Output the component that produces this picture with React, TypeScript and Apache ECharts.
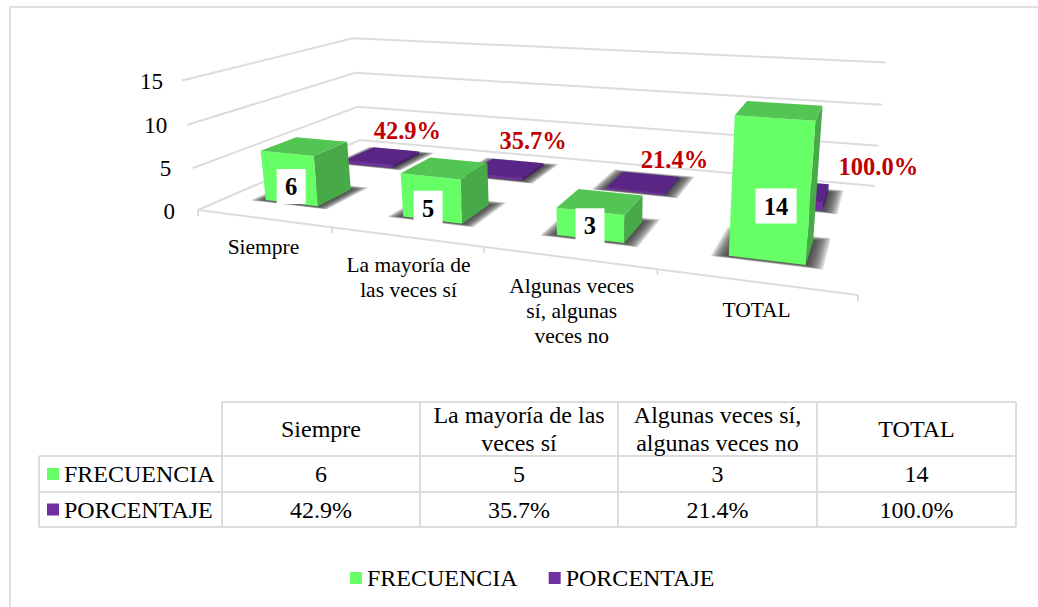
import React, { useEffect, useRef } from "react";
import * as echarts from "echarts";

const seriesNames = ["FRECUENCIA", "PORCENTAJE"];
const axisCategories = ["Siempre", "La mayoría de\nlas veces sí", "Algunas veces\nsí, algunas\nveces no", "TOTAL"];
const tableCategories = ["Siempre", "La mayoría de las\nveces sí", "Algunas veces sí,\nalgunas veces no", "TOTAL"];
const frecuencia = [6, 5, 3, 14];
const porcentaje = [0.429, 0.357, 0.214, 1.0];
const yTicks = [0, 5, 10, 15];

const FONT = '"Liberation Serif", "Times New Roman", serif';
const GREEN = "#66FF66";
const PURPLE = "#7030A0";
const LINE = "#DCDCDC";

// perspective frame of the 3D box (screen corners of its floor and its ceiling)
type P = [number, number];
const FLOOR: P[] = [[198, 210], [858, 295], [875, 186], [360, 140]];
const CEIL: P[] = [[182, 77], [870, 130], [887, 67], [353, 36]];

function makeCamera(q: P[], top: P[]) {
  const [[x0, y0], [x1, y1], [x2, y2], [x3, y3]] = q;
  const dx1 = x1 - x2, dx2 = x3 - x2, sx = x0 - x1 + x2 - x3;
  const dy1 = y1 - y2, dy2 = y3 - y2, sy = y0 - y1 + y2 - y3;
  const den = dx1 * dy2 - dx2 * dy1;
  const g = (sx * dy2 - dx2 * sy) / den;
  const h = (dx1 * sy - sx * dy1) / den;
  const a = x1 - x0 + g * x1, b = x3 - x0 + h * x3, c = x0;
  const d = y1 - y0 + g * y1, e = y3 - y0 + h * y3, f = y0;
  const corners: P[] = [[0, 0], [1, 0], [1, 1], [0, 1]];
  // least-squares fit of the vertical column (cx, cy, cw) of the projective camera
  const A = [[0, 0, 0], [0, 0, 0], [0, 0, 0]];
  const B = [0, 0, 0];
  const add = (row: number[], rhs: number) => {
    for (let r = 0; r < 3; r++) {
      for (let s = 0; s < 3; s++) A[r][s] += row[r] * row[s];
      B[r] += row[r] * rhs;
    }
  };
  corners.forEach(([u, v], i) => {
    const W = g * u + h * v + 1;
    const X = a * u + b * v + c;
    const Y = d * u + e * v + f;
    const [tx, ty] = top[i];
    add([1, 0, -tx], tx * W - X);
    add([0, 1, -ty], ty * W - Y);
  });
  for (let r = 0; r < 3; r++) {
    for (let k = r + 1; k < 3; k++) {
      const m = A[k][r] / A[r][r];
      for (let s = r; s < 3; s++) A[k][s] -= m * A[r][s];
      B[k] -= m * B[r];
    }
  }
  const col = [0, 0, 0];
  for (let r = 2; r >= 0; r--) {
    let t = B[r];
    for (let s = r + 1; s < 3; s++) t -= A[r][s] * col[s];
    col[r] = t / A[r][r];
  }
  return (u: number, v: number, t: number): P => {
    const w = g * u + h * v + 1 + col[2] * t;
    return [(a * u + b * v + c + col[0] * t) / w, (d * u + e * v + f + col[1] * t) / w];
  };
}
const project = makeCamera(FLOOR, CEIL);

const GEOM = {
  barStart: 0.2375,
  barEnd: 0.6425,
  bandShift: [0.043, 0.069, 0.082, 0.077],
  green: [0.165, 0.365],
  purple: [0.66, 0.87],
};
// hand-placed data labels in the source, relative to the top of each bar's front / top face
const greenLabelOffset: P[] = [[4, 33], [-2.5, 32], [-0.5, 14.5], [1, 88]];
const purpleLabelOffset: P[] = [[24.5, -25], [26, -28], [31, -23], [85, -24]];
const categoryLabelNudge = [0.5, 3, 4, 2.5];

function norm(api: any, params: any, x: number, y: number) {
  const c = api.coord([x, y]);
  const s = params.coordSys;
  return { u: (c[0] - s.x) / s.width, h: (s.y + s.height - c[1]) / s.height, px: c[0], s };
}

function barItem(depth: number[], top: string, front: string, side: string, kind: "green" | "purple") {
  return (params: any, api: any) => {
    const i = api.value(0);
    const v = api.value(1);
    const n = norm(api, params, i, v);
    const band = api.size([1, 0])[0];
    const left = n.px - band / 2 + band * GEOM.bandShift[i];
    const u0 = (left + band * GEOM.barStart - n.s.x) / n.s.width;
    const u1 = (left + band * GEOM.barEnd - n.s.x) / n.s.width;
    const [d0, d1] = depth;
    const h = n.h;
    const poly = (pts: P[], fill: string) => ({
      type: "polygon",
      shape: { points: pts },
      style: { fill },
    });
    const children: any[] = [];
    for (let k = 8; k >= 1; k--) {
      const eu = 0.0028 * k;
      const ed = 0.005 * k;
      children.push(
        poly(
          [
            project(u0 - eu, d0 - ed * 0.5, 0),
            project(u1 + eu, d0 - ed * 0.5, 0),
            project(u1 + eu, d1 + ed, 0),
            project(u0 - eu, d1 + ed, 0),
          ],
          "rgba(50,50,50,0.2)"
        )
      );
    }
    children.push(
      poly([project(u1, d0, 0), project(u1, d1, 0), project(u1, d1, h), project(u1, d0, h)], side),
      poly([project(u0, d0, 0), project(u1, d0, 0), project(u1, d0, h), project(u0, d0, h)], front),
      poly([project(u0, d0, h), project(u1, d0, h), project(u1, d1, h), project(u0, d1, h)], top)
    );
    if (kind === "green") {
      const a = project(u0, d0, h), b = project(u1, d0, h);
      const off = greenLabelOffset[i];
      const cx = (a[0] + b[0]) / 2 + off[0];
      const cy = (a[1] + b[1]) / 2 + off[1];
      const txt = String(v);
      const w = txt.length > 1 ? 41 : 29;
      children.push({
        type: "rect",
        shape: { x: cx - w / 2, y: cy - 17.5, width: w, height: 35 },
        style: { fill: "#FFFFFF" },
      });
      children.push({
        type: "text",
        style: {
          text: txt, x: cx, y: cy, align: "center", verticalAlign: "middle",
          font: `bold 24.5px ${FONT}`, fill: "#000000",
        },
      });
    } else {
      const c = project((u0 + u1) / 2, (d0 + d1) / 2, h);
      const off = purpleLabelOffset[i];
      children.push({
        type: "text",
        style: {
          text: (v * 100).toFixed(1) + "%", x: c[0] + off[0], y: c[1] + off[1],
          align: "center", verticalAlign: "middle",
          font: `bold 24.5px ${FONT}`, fill: "#C00000",
        },
      });
    }
    return { type: "group", children };
  };
}

function frameItem(params: any, api: any) {
  const t = api.value(1);
  const n = norm(api, params, 0, t);
  const h = n.h;
  const line = (pts: P[]) => ({
    type: "polyline",
    shape: { points: pts },
    style: { stroke: LINE, lineWidth: 2, fill: "none" },
  });
  const children: any[] = [line([project(0, 0, h), project(0, 1, h), project(1, 1, h)])];
  const s = project(0, 0, h);
  children.push({
    type: "text",
    style: {
      text: String(t), x: s[0] - 23 + 4 * h, y: s[1] + 1, align: "right", verticalAlign: "middle",
      font: `23px ${FONT}`, fill: "#000000",
    },
  });
  if (t === 0) {
    children.push(line([project(0, 0, 0), project(1, 0, 0)]));
    for (let k = 0; k <= 4; k++) {
      const p = project(k / 4, 0, 0);
      children.push(line([p, [p[0], p[1] + 6]]));
    }
  }
  return { type: "group", children };
}

function categoryLabelItem(params: any, api: any) {
  const i = api.value(0);
  const c = api.coord([i, 0]);
  const u = (c[0] - params.coordSys.x) / params.coordSys.width;
  const p = project(u, 0, 0);
  return {
    type: "text",
    style: {
      text: axisCategories[i], x: p[0] + categoryLabelNudge[i], y: p[1] + 16, align: "center", verticalAlign: "top",
      font: `21.5px ${FONT}`, lineHeight: 25, fill: "#000000",
    },
  };
}

function tableGraphic() {
  const xs = [222, 420, 618, 817, 1016];
  const ys = [402, 456, 492, 527];
  const left = 39;
  const els: any[] = [];
  const ln = (x1: number, y1: number, x2: number, y2: number) => ({
    type: "line",
    shape: { x1, y1, x2, y2 },
    style: { stroke: LINE, lineWidth: 2 },
  });
  els.push(ln(xs[0], ys[0], xs[4], ys[0]));
  els.push(ln(left, ys[1], xs[4], ys[1]));
  els.push(ln(left, ys[2], xs[4], ys[2]));
  els.push(ln(left, ys[3], xs[4], ys[3]));
  els.push(ln(left, ys[1], left, ys[3]));
  xs.forEach((x) => els.push(ln(x, ys[0], x, ys[3])));
  const txt = (text: string, x: number, y: number, align = "center", size = 24, lh = 28) => ({
    type: "text",
    x, y,
    style: { text, align, verticalAlign: "middle", font: `${size}px ${FONT}`, lineHeight: lh, fill: "#000000" },
  });
  tableCategories.forEach((c, i) => {
    const cx = (xs[i] + xs[i + 1]) / 2;
    els.push(txt(c, cx, (ys[0] + ys[1]) / 2));
    els.push(txt(String(frecuencia[i]), cx, (ys[1] + ys[2]) / 2));
    els.push(txt((porcentaje[i] * 100).toFixed(1) + "%", cx, (ys[2] + ys[3]) / 2));
  });
  [GREEN, PURPLE].forEach((color, r) => {
    const cy = (ys[r + 1] + ys[r + 2]) / 2;
    els.push({ type: "rect", shape: { x: 47, y: cy - 6, width: 12, height: 12 }, style: { fill: color } });
    els.push(txt(seriesNames[r], 64, cy, "left", 24));
  });
  return els;
}

export default function App() {
  const ref = useRef<HTMLDivElement>(null);
  useEffect(() => {
    document.body.style.margin = "0";
    const chart = echarts.init(ref.current!, undefined, { renderer: "svg" });
    chart.setOption({
      animation: false,
      backgroundColor: "#FFFFFF",
      grid: { left: 100, top: 50, width: 800, height: 300, show: false },
      xAxis: { type: "category", data: axisCategories, show: false },
      yAxis: { type: "value", min: 0, max: 15, interval: 5, show: false },
      legend: {
        data: seriesNames,
        left: 350,
        top: 566,
        padding: 0,
        icon: "rect",
        itemWidth: 12,
        itemHeight: 12,
        itemGap: 31,
        selectedMode: false,
        textStyle: { fontFamily: FONT, fontSize: 24, color: "#000000" },
      },
      graphic: [
        {
          type: "polyline",
          shape: { points: [[10, 607], [10, 7], [1038, 7]] },
          style: { stroke: "#E0E0E0", lineWidth: 2, fill: "none" },
        },
        ...tableGraphic(),
      ],
      series: [
        {
          type: "custom",
          name: "frame",
          data: yTicks.map((t) => [0, t]),
          renderItem: frameItem,
          silent: true,
          z: 1,
        },
        {
          type: "custom",
          name: seriesNames[1],
          data: porcentaje.map((v, i) => [i, v]),
          renderItem: barItem(GEOM.purple, "#5A2685", PURPLE, "#4A1F6E", "purple"),
          itemStyle: { color: PURPLE },
          z: 2,
        },
        {
          type: "custom",
          name: seriesNames[0],
          data: frecuencia.map((v, i) => [i, v]),
          renderItem: barItem(GEOM.green, "#52C552", GREEN, "#47A947", "green"),
          itemStyle: { color: GREEN },
          z: 3,
        },
        {
          type: "custom",
          name: "categories",
          data: axisCategories.map((_, i) => [i, 0]),
          renderItem: categoryLabelItem,
          silent: true,
          z: 4,
        },
      ],
    });
    return () => chart.dispose();
  }, []);
  return <div ref={ref} style={{ position: "absolute", left: 0, top: 0, width: 1038, height: 607 }} />;
}
